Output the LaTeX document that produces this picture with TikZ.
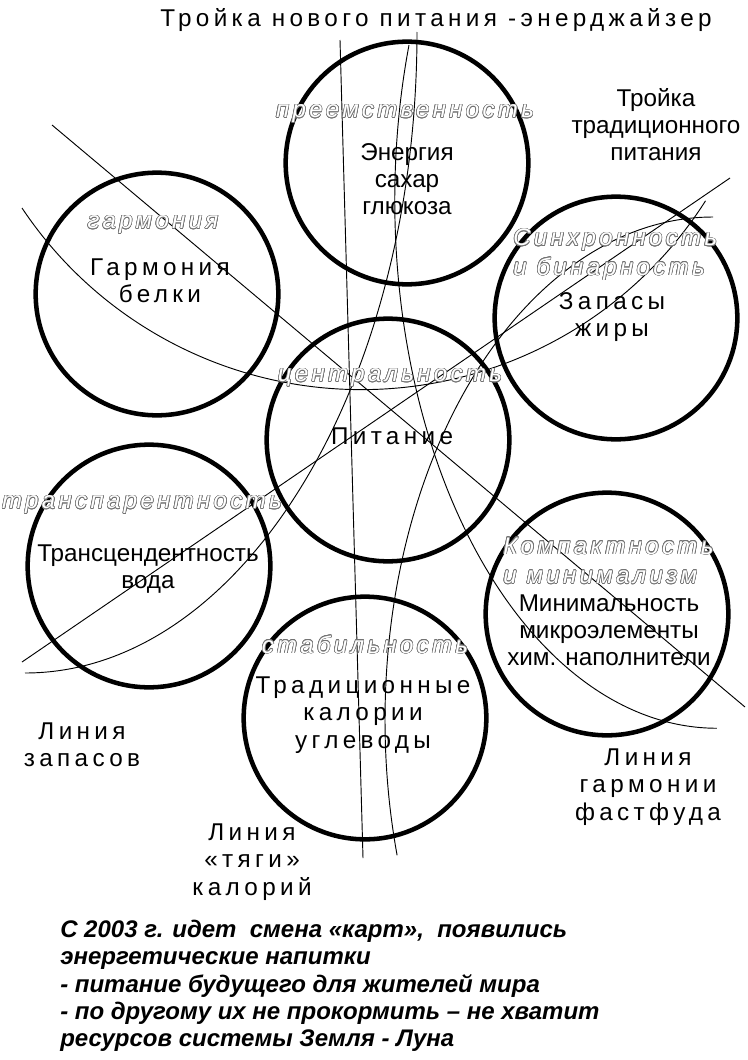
\documentclass[tikz,border=0pt]{standalone}
\usepackage{fontspec}
\setmainfont{Liberation Sans}
\newfontfamily\spfont[LetterSpace=18]{Liberation Sans}
\newfontfamily\olfont[LetterSpace=14]{Liberation Sans}
\usepackage[copies]{contour}
\contourlength{0.45pt}
\newcommand{\hollowtext}[1]{{\color{white}\contour{black!55}{#1}}}
\tikzset{
  heavy/.style={draw, circle, line width=3.4pt, minimum size=182pt, inner sep=0pt},
  fine/.style={line width=0.7pt},
  lbl/.style={inner sep=0pt, align=center, font=\fontsize{18.2pt}{20.3pt}\selectfont},
  slbl/.style={inner sep=0pt, align=center, font=\spfont\fontsize{18.2pt}{20.6pt}\selectfont},
  olbl/.style={inner sep=0pt, align=left, font=\olfont\itshape\fontsize{18pt}{21pt}\selectfont},
  note/.style={inner sep=0pt, align=left, font=\bfseries\itshape\fontsize{18pt}{20.4pt}\selectfont},
}
\begin{document}
\begin{tikzpicture}[x=0.75pt,y=-0.75pt]
\path[fill=white,use as bounding box] (0,0) rectangle (748,1060);

% end points of the lines
\coordinate (a1) at (340,40);   \coordinate (a2) at (363,858);
\coordinate (b1) at (417,32);
\coordinate (c1) at (409,45);
\coordinate (e1) at (713,217);
\coordinate (r1) at (22,208);
\coordinate (l1) at (730,178);  \coordinate (l2) at (22,662);
\coordinate (d1) at (52,125);   \coordinate (d2) at (745,707);

% thin lines
\draw[fine] (a1) -- (a2);
\draw[fine] (l1) -- (l2);
\draw[fine] (d1) -- (d2);
\draw[fine] (b1) arc[start angle=0, end angle=90, x radius=392, y radius=641];
\draw[fine] (c1) arc[start angle=197.1, end angle=90, x radius=322, y radius=528];
\draw[fine] (e1) arc[start angle=270, end angle=164.4, x radius=328, y radius=503];
\draw[fine] (r1) arc[start angle=146.3, end angle=32.5, radius=408];

% circles
\node[heavy] (cE) at (407,163) {};
\node[heavy] (cG) at (157,294) {};
\node[heavy] (cZ) at (616,318) {};
\node[heavy] (cP) at (388,440) {};
\node[heavy] (cT) at (149,566) {};
\node[heavy] (cM) at (607,614) {};
\node[heavy] (cK) at (365,718) {};

% hollow italic labels
\node[olbl] (hE) at (405,114) {\hollowtext{преемственность}};
\node[olbl] (hG) at (153,225) {\hollowtext{гармония}};
\node[olbl,anchor=west] (hZ) at (513,255) {\hollowtext{Синхронность}\\[1pt]\hollowtext{и бинарность}};
\node[olbl] (hP) at (390,378) {\hollowtext{центральность}};
\node[olbl] (hT) at (142,505) {\hollowtext{транспарентность}};
\node[olbl,anchor=west] (hM) at (503,561) {\hollowtext{Компактность}\\[1pt]\hollowtext{и минимализм}};
\node[olbl] (hK) at (365,645) {\hollowtext{стабильность}};

% labels
\node[slbl] (title) at (436,20) {Тройка нового питания -энерджайзер};
\node[lbl] (trad) at (656,125) {Тройка\\традиционного\\питания};
\node[lbl] (tE) at (407,179) {Энергия\\сахар\\глюкоза};
\node[slbl] (tG) at (160,281) {Гармония\\белки};
\node[slbl] (tZ) at (612,317) {Запасы\\жиры};
\node[slbl] (tP) at (392,436) {Питание};
\node[lbl] (tT) at (148,569) {Трансцендентность\\вода};
\node[lbl] (tM) at (609,630) {Минимальность\\микроэлементы\\хим. наполнители};
\node[slbl] (tK) at (363,715) {Традиционные\\калории\\углеводы};
\node[slbl] (lz) at (82,745) {Линия\\запасов};
\node[slbl] (lf) at (648,787) {Линия\\гармонии\\фастфуда};
\node[slbl] (lt) at (252,862) {Линия\\«тяги»\\калорий};

\node[note,anchor=north west] (nt) at (60,920) {С 2003 г. идет\ \ смена «карт»,\ \ появились\\энергетические напитки\\- питание будущего для жителей мира\\- по другому их не прокормить – не хватит\\ресурсов системы Земля - Луна};
\end{tikzpicture}
\end{document}
